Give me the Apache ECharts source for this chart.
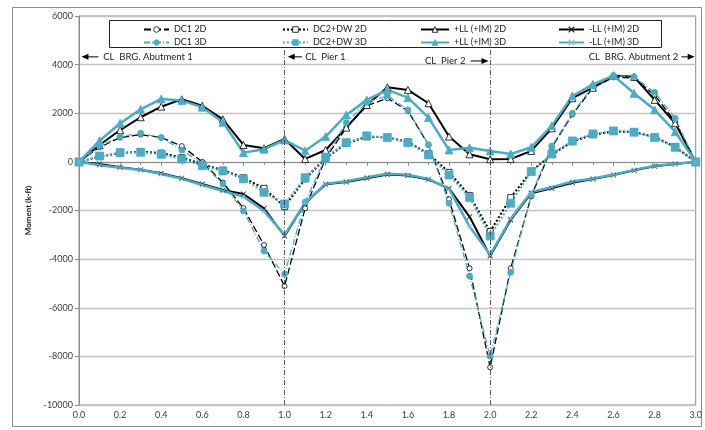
<!DOCTYPE html>
<html>
<head>
<meta charset="utf-8">
<script src="https://cdn.jsdelivr.net/npm/echarts@6/dist/echarts.min.js"></script>
<style>
html,body{margin:0;padding:0;background:#fff;}
#chart{width:705px;height:430px;}
</style>
</head>
<body>
<div id="chart"></div>
<script>
// Stations along the bridge (span fraction)
const stations = [0.0,0.1,0.2,0.3,0.4,0.5,0.6,0.7,0.8,0.9,1.0,1.1,1.2,1.3,1.4,1.5,1.6,1.7,1.8,1.9,2.0,2.1,2.2,2.3,2.4,2.5,2.6,2.7,2.8,2.9,3.0];

// Moment values (k-ft)
const dc1_2d   = [0,600,1000,1120,1000,650,0,-850,-1900,-3420,-5110,-1910,150,1400,2310,2620,2100,700,-1540,-4380,-8450,-4380,-1420,600,1950,3050,3480,3450,2750,1650,0];
const dc1_3d   = [0,650,1040,1180,1000,490,-80,-910,-2020,-3670,-4610,-1650,190,1610,2450,2720,2140,700,-1700,-4700,-7990,-4540,-1360,650,2000,3120,3550,3500,2860,1790,0];
const dc2dw_2d = [0,220,360,420,360,180,-100,-340,-650,-1090,-1840,-700,150,760,1030,1010,820,330,-430,-1380,-2870,-1470,-380,300,830,1120,1250,1230,1020,620,0];
const dc2dw_3d = [0,240,380,395,310,120,-160,-375,-700,-1250,-1730,-650,190,790,1070,1000,790,285,-540,-1460,-3050,-1700,-400,325,860,1150,1270,1220,1000,600,0];
const posLL_2d = [0,695,1310,1835,2270,2575,2310,1750,695,560,940,120,490,1410,2340,3070,2960,2410,1040,310,110,120,450,1380,2620,3050,3550,3500,2550,1590,0];
const posLL_3d = [0,870,1590,2160,2590,2520,2250,1630,380,520,900,460,1040,1930,2550,2960,2640,1820,490,580,450,325,600,1490,2710,3190,3550,2820,2140,1240,0];
const negLL_2d = [0,-90,-220,-320,-470,-670,-910,-1160,-1320,-1910,-3050,-1700,-920,-830,-670,-520,-560,-730,-1090,-2260,-3870,-2390,-1290,-1090,-860,-710,-540,-350,-180,-90,0];
const negLL_3d = [0,-140,-240,-330,-500,-700,-950,-1200,-1430,-2020,-3000,-1680,-900,-800,-630,-490,-530,-700,-1110,-2660,-3820,-2340,-1240,-1040,-810,-680,-520,-330,-160,-80,0];

const seriesNames = ['DC1 2D','DC2+DW 2D','+LL (+IM) 2D','-LL (+IM) 2D','DC1 3D','DC2+DW 3D','+LL (+IM) 3D','-LL (+IM) 3D'];

// Axis settings
const yMin = -10000, yMax = 6000, yStep = 2000;
const xMin = 0, xMax = 3, xStep = 0.2;

// Support line positions and annotation texts
const supportX = [1.0, 2.0];
const labelAbut1 = 'CL  BRG. Abutment 1';
const labelPier1 = 'CL  Pier 1';
const labelPier2 = 'CL  Pier 2';
const labelAbut2 = 'CL  BRG. Abutment 2';

const CYAN = '#4BACC6';
const BLACK = '#000000';
const FONT = 'Lato, "Open Sans", sans-serif';
const XSYM = 'path://M0,0.8L0.8,0L5,4.2L9.2,0L10,0.8L5.8,5L10,9.2L9.2,10L5,5.8L0.8,10L0,9.2L4.2,5Z';

function pairs(arr){ return stations.map((s,i)=>[s, arr[i]]); }

const chart = echarts.init(document.getElementById('chart'), null, {renderer:'canvas'});

function mk(name, data, color, lineType, width, symbol, size, extra){
  return Object.assign({
    name: name, type: 'line', data: pairs(data),
    symbol: symbol, symbolSize: size, showSymbol: true,
    lineStyle: {color: color, width: width, type: lineType},
    itemStyle: {color: color, borderColor: color, borderWidth: 0.8},
    emphasis: {disabled: true}, animation: false
  }, extra || {});
}
const openStyle = {color:'#fff', borderColor:BLACK, borderWidth:0.8};

const series = [
  mk(seriesNames[0], dc1_2d, BLACK, [7,3], 1.3, 'circle', 5, {itemStyle:openStyle,
    markLine: {silent:true, symbol:['none','none'], label:{show:false},
      lineStyle:{color:'#333', width:0.8, type:[5,2,1,2]},
      data: supportX.map(v=>[{coord:[v,4600]},{coord:[v,yMin]}])}}),
  mk(seriesNames[1], dc2dw_2d, BLACK, [2,2], 2, 'rect', 6, {itemStyle:openStyle}),
  mk(seriesNames[2], posLL_2d, BLACK, 'solid', 2, 'triangle', 7, {itemStyle:openStyle}),
  mk(seriesNames[3], negLL_2d, BLACK, 'solid', 2, XSYM, 5, {itemStyle:{color:'#222', borderColor:'#222', borderWidth:0.3}}),
  mk(seriesNames[4], dc1_3d, CYAN, [6,2,1,2], 1.3, 'circle', 6),
  mk(seriesNames[5], dc2dw_3d, CYAN, [2,2], 2, 'rect', 8),
  mk(seriesNames[6], posLL_3d, CYAN, 'solid', 2.5, 'triangle', 8),
  mk(seriesNames[7], negLL_3d, CYAN, 'solid', 2.5, XSYM, 5, {itemStyle:{color:'#7cc3d6', borderColor:'#7cc3d6', borderWidth:0.3}})
];

const legendBase = {orient:'vertical', top:20, itemHeight:7, itemGap:4, itemWidth:25,
  itemStyle:{borderWidth:0.8},
  textStyle:{fontFamily:FONT, fontSize:9, color:'#222'}, selectedMode:false};

const option = {
  backgroundColor: '#fff',
  animation: false,
  grid: {left:79, right:9, top:16, bottom:25, show:true, borderColor:'#8c8c8c', borderWidth:1, containLabel:false},
  legend: [
    Object.assign({}, legendBase, {left:138, data:[seriesNames[0], seriesNames[4]]}),
    Object.assign({}, legendBase, {left:277, data:[seriesNames[1], seriesNames[5]]}),
    Object.assign({}, legendBase, {left:415, itemWidth:28, data:[seriesNames[2], seriesNames[6]]}),
    Object.assign({}, legendBase, {left:553, data:[seriesNames[3], seriesNames[7]]})
  ],
  xAxis: {
    type:'value', min:xMin, max:xMax, interval:xStep,
    axisLine:{show:true, lineStyle:{color:'#8c8c8c'}},
    axisTick:{show:true, length:4, lineStyle:{color:'#8c8c8c'}},
    minorTick:{show:true, splitNumber:2, length:3, lineStyle:{color:'#8c8c8c'}},
    splitLine:{show:false},
    axisLabel:{fontFamily:FONT, fontSize:9, color:'#404040', margin:6, formatter:v=>v.toFixed(1)}
  },
  yAxis: {
    type:'value', min:yMin, max:yMax, interval:yStep,
    name:'Moment (k-ft)', nameLocation:'middle', nameGap:34, nameRotate:90,
    nameTextStyle:{fontFamily:FONT, fontSize:8, fontWeight:'bold', color:'#222'},
    axisLine:{show:true, lineStyle:{color:'#8c8c8c'}},
    axisTick:{show:true, length:4, lineStyle:{color:'#8c8c8c'}},
    splitLine:{show:true, lineStyle:{color:'#c4c4c4', width:1.3}},
    axisLabel:{fontFamily:FONT, fontSize:9, color:'#404040', margin:6, formatter:v=>String(v)}
  },
  series: series
};

chart.setOption(option);

// Annotations positioned through the axis scales
function px(x, y){ return chart.convertToPixel({gridIndex:0}, [x, y]); }
function arrow(tipX, tailX, y){
  const a = px(tipX, y), b = px(tailX, y);
  const dir = a[0] < b[0] ? 1 : -1;
  return [
    {type:'line', shape:{x1:a[0]+dir*5, y1:a[1], x2:b[0], y2:b[1]}, style:{stroke:'#000', lineWidth:1}, silent:true},
    {type:'polygon', shape:{points:[[a[0],a[1]],[a[0]+dir*7,a[1]-3],[a[0]+dir*7,a[1]+3]]}, style:{fill:'#000'}, silent:true}
  ];
}
function text(x, y, str, align){
  const p = px(x, y);
  return {type:'text', x:p[0], y:p[1], silent:true,
    style:{text:str, fill:'#222', font:'9.5px ' + FONT, textAlign:align, textVerticalAlign:'middle'}};
}
const yA = 4320, yP2 = 4150;
const g = [].concat(
  arrow(0.012, 0.095, yA), [text(0.118, yA, labelAbut1, 'left')],
  arrow(1.015, 1.085, yA), [text(1.1, yA, labelPier1, 'left')],
  [text(1.88, yP2, labelPier2, 'right')], arrow(1.992, 1.905, yP2),
  [text(2.915, yA, labelAbut2, 'right')], arrow(2.995, 2.93, yA),
  [
    {type:'rect', shape:{x:109.5, y:20.5, width:552, height:27}, style:{fill:'none', stroke:'#222', lineWidth:1}, silent:true, z:-1},
    {type:'rect', shape:{x:12.5, y:7.5, width:689, height:419}, style:{fill:'none', stroke:'#8c8c8c', lineWidth:1}, silent:true, z:-1}
  ]
);
chart.setOption({graphic: g});
</script>
</body>
</html>
